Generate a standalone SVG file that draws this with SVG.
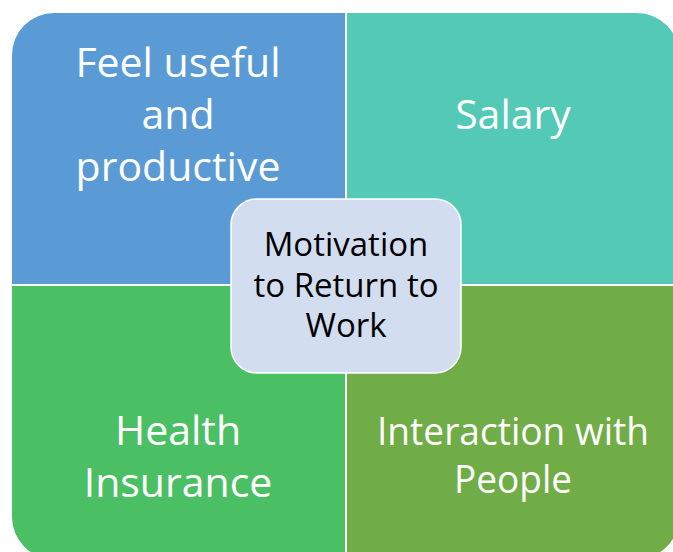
<svg xmlns="http://www.w3.org/2000/svg" width="673" height="552" viewBox="0 0 673 552">
<style>
.q{font-family:"Open Sans","Liberation Sans",sans-serif;font-size:41px;fill:#ffffff;text-anchor:middle}
.c{font-family:"Open Sans","Liberation Sans",sans-serif;font-size:33px;fill:#000000;text-anchor:middle}
</style>
<rect width="673" height="552" fill="#ffffff"/>
<g id="feel">
<path d="M12,55 A42,42 0 0 1 54,13 L345,13 L345,284 L12,284 Z" fill="#5B9BD5"/>
<text class="q" x="178" y="77">Feel useful</text>
<text class="q" x="178" y="129">and</text>
<text class="q" x="178" y="181">productive</text>
</g>
<g id="salary">
<path d="M347,13 L637,13 A42,42 0 0 1 679,55 L679,284 L347,284 Z" fill="#53C9B6"/>
<text class="q" x="513" y="129">Salary</text>
</g>
<g id="health">
<path d="M12,286 L345,286 L345,559 L54,559 A42,42 0 0 1 12,517 Z" fill="#4BBF64"/>
<text class="q" x="178" y="445">Health</text>
<text class="q" x="178" y="497">Insurance</text>
</g>
<g id="people">
<path d="M347,286 L679,286 L679,517 A42,42 0 0 1 637,559 L347,559 Z" fill="#70AD47"/>
<text class="q" x="513" y="445" style="font-size:39px" textLength="272" lengthAdjust="spacingAndGlyphs">Interaction with</text>
<text class="q" x="513" y="493" style="font-size:39px" textLength="118" lengthAdjust="spacingAndGlyphs">People</text>
</g>
<g id="connectors"></g>
<g id="center">
<rect x="231" y="199" width="230" height="174" rx="26" ry="26" fill="#D2DEEF" stroke="#ffffff" stroke-width="1.5"/>
<text class="c" x="346" y="256">Motivation</text>
<text class="c" x="346" y="297">to Return to</text>
<text class="c" x="346" y="337">Work</text>
</g>
</svg>
